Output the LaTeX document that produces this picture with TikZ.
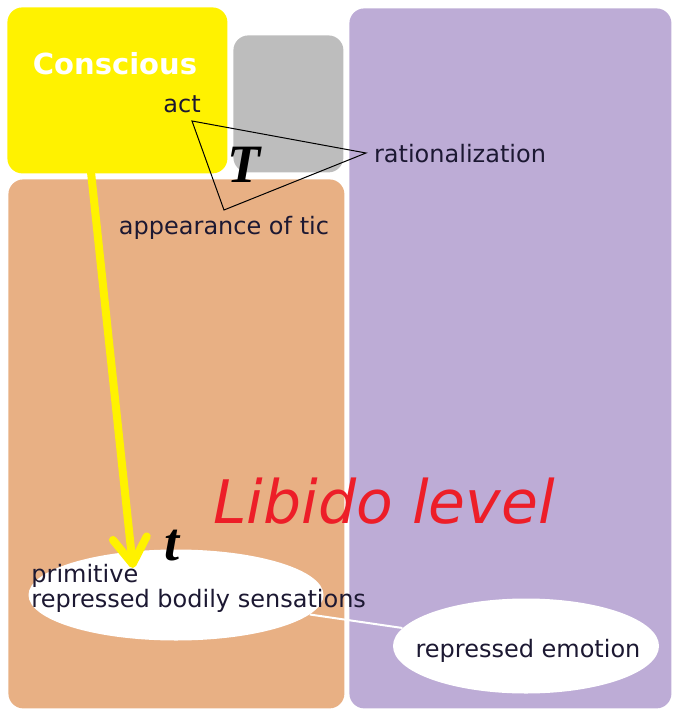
\documentclass[tikz,border=0pt]{standalone}
\usepackage{fontspec}
\setmainfont{DejaVu Sans}
\newfontfamily\letterfont{Liberation Serif}
\usetikzlibrary{shapes.geometric,arrows.meta}
\definecolor{consciousyellow}{RGB}{255,242,0}
\definecolor{screengray}{RGB}{189,189,189}
\definecolor{libidopeach}{RGB}{232,176,132}
\definecolor{emotionpurple}{RGB}{189,172,214}
\definecolor{libidored}{RGB}{237,30,40}
\definecolor{inkblue}{RGB}{28,24,50}
\begin{document}
\begin{tikzpicture}[x=0.5pt,y=-0.5pt]
        \tikzstyle{area}=[rounded corners=7.5pt,inner sep=0pt,anchor=north west]
        \tikzstyle{label}=[inner sep=0pt,anchor=base,text=inkblue,font=\fontsize{12}{11}\selectfont]
        \tikzstyle{bigletter}=[inner sep=0pt,anchor=base,font=\letterfont\bfseries\itshape\fontsize{27}{27}\selectfont]
        \tikzstyle{cloud}=[ellipse,fill=white,inner sep=0pt]
        \tikzstyle{edge}=[draw,black,line width=0.5pt,line join=miter]
        \useasboundingbox (0,0) rectangle (673,710);
        \begin{scope}
           % levels
           \node [area,fill=consciousyellow,minimum width=110pt,minimum height=83pt] (conscious) at (7,7) {};
           \node [area,fill=screengray,minimum width=55pt,minimum height=68.5pt] (screen) at (233,35) {};
           \node [area,fill=libidopeach,minimum width=168pt,minimum height=264.5pt] (libido) at (8,179) {};
           \node [area,fill=emotionpurple,minimum width=161pt,minimum height=350pt] (emotions) at (349,8) {};
           \node [inner sep=0pt,anchor=base,text=white,font=\bfseries\fontsize{14.5}{14.5}\selectfont] (consciouslabel) at (115,75) {Conscious};
           \node [inner sep=0pt,anchor=base,text=libidored,font=\itshape\fontsize{30}{30}\selectfont] (libidolabel) at (384,523) {Libido level};
           % triangle
           \coordinate (actpt) at (192,121);
           \coordinate (ratpt) at (366,153);
           \coordinate (ticpt) at (224,210);
           \path[edge] (actpt) -- (ratpt) -- (ticpt) -- cycle;
           \node [label] (act) at (182,113) {act};
           \node [label] (rationalization) at (460,163) {rationalization};
           \node [label] (tic) at (224,235) {appearance of tic};
           \node [bigletter] (bigT) at (244,183) {T};
           % repressed
           \node [cloud,minimum width=147.5pt,minimum height=45.5pt] (bodily) at (176,595) {};
           \node [cloud,minimum width=133pt,minimum height=47.5pt] (emotion) at (526,646) {};
           \draw [white,line width=1pt] (bodily) -- (emotion);
           \node [label,anchor=north west,align=left] (sensations) at (31,564) {primitive\\repressed bodily sensations};
           \node [label] at (528,657) (emotionlabel) {repressed emotion};
           \node [bigletter] (smallt) at (172,560) {t};
           % descent
           \coordinate (tailpt) at (91,172);
           \coordinate (tippt) at (133,568);
           \draw [consciousyellow,line width=4pt,line cap=round,-{Straight Barb[round,length=13pt,width=17pt]}] (tailpt) -- (tippt);
        \end{scope}
\end{tikzpicture}
\end{document}
